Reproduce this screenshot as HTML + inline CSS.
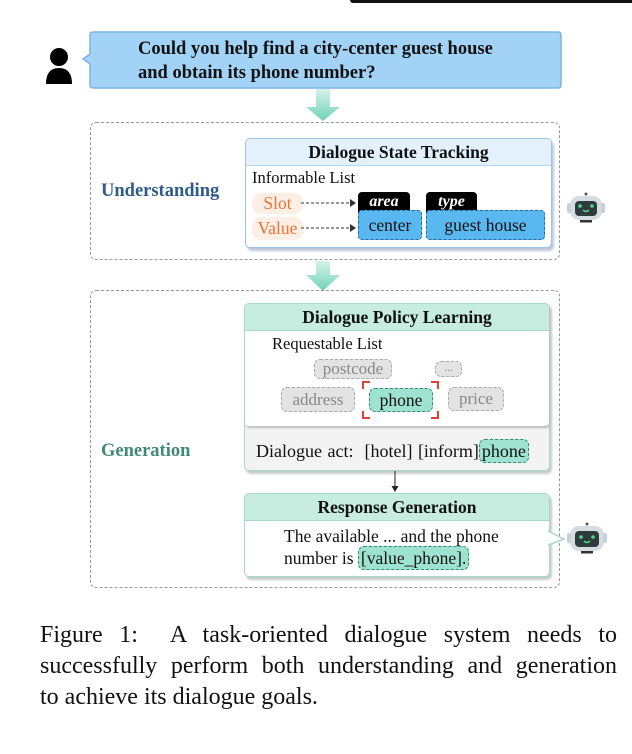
<!DOCTYPE html>
<html><head><meta charset="utf-8"><style>
*{margin:0;padding:0;box-sizing:border-box}
body{width:632px;height:754px;background:#fff;position:relative;overflow:hidden;font-family:"Liberation Serif",serif;color:#111}
.a{position:absolute}
.dash{border:1.2px dashed #999;border-radius:6px}
.t{white-space:nowrap}
.pill{position:absolute;border:1.2px dashed #aaa;border-radius:6px;background:#e3e3e3;color:#888;font-size:17px;text-align:center}
.hl{background:#9ee3d0;border:1.2px dashed #3f8a72;border-radius:6px;padding:1px 2px}
.cl{display:block;text-align:justify;text-align-last:justify;white-space:nowrap;height:31px}
</style></head><body>
<div class="a" style="left:350px;top:0;width:282px;height:3px;background:#111;border-radius:0 0 0 4px"></div>
<!-- person -->
<svg class="a" style="left:44px;top:46px" width="30" height="42"><circle cx="15" cy="11" r="9" fill="#000"/><path d="M2 38 Q2 22 15 22 Q28 22 28 38 Z" fill="#000"/></svg>
<!-- bubble -->
<svg class="a" style="left:80px;top:30px" width="485" height="62"><path d="M10 4 Q10 2 14 2 L478 2 Q481 2 481 5 L481 55 Q481 58 478 58 L14 58 Q10 58 10 55 L10 34 L3 29 L10 24 Z" fill="#a2d3f6" stroke="#7fb4e4" stroke-width="1.5"/></svg>
<div class="a t" style="left:138px;top:37px;font-weight:bold;font-size:18.5px;line-height:24px">Could you help find a city-center guest house<br>and obtain its phone number?</div>
<!-- arrows -->
<svg class="a" style="left:304px;top:89px" width="38" height="34"><defs><linearGradient id="g" x1="0" y1="0" x2="0" y2="1"><stop offset="0" stop-color="#d6f2ea"/><stop offset="1" stop-color="#6fd3b6"/></linearGradient></defs><path d="M12 0 H26 V18 H36 L19 32 L2 18 H12 Z" fill="url(#g)"/></svg>
<svg class="a" style="left:304px;top:261px" width="38" height="32"><path d="M12 0 H26 V14 H36 L19 30 L2 14 H12 Z" fill="url(#g)"/></svg>
<!-- understanding box -->
<div class="a dash" style="left:90px;top:122px;width:470px;height:138px"></div>
<div class="a t" style="left:101px;top:181px;font-weight:bold;font-size:18.5px;color:#2f5b8a">Understanding</div>
<div class="a" style="left:245px;top:138px;width:307px;height:110px;background:#fff;border:1.5px solid #9cc3e8;border-radius:5px;box-shadow:2px 3px 2px #bcc8d6"></div>
<div class="a" style="left:246px;top:139px;width:305px;height:27px;background:#e3f1fc;border-bottom:1.5px solid #b8d6f0;border-radius:4px 4px 0 0;text-align:center;font-weight:bold;font-size:17.5px;line-height:27px">Dialogue State Tracking</div>
<div class="a t" style="left:252px;top:168px;font-size:16.5px">Informable List</div>
<div class="a" style="left:252px;top:193px;width:51px;height:21px;background:#fdeee6;border-radius:9px;color:#e8742f;font-size:17.5px;text-align:center;line-height:21px">Slot</div>
<div class="a" style="left:252px;top:217px;width:51px;height:23px;background:#fdeee6;border-radius:9px;color:#e8742f;font-size:17.5px;text-align:center;line-height:23px">Value</div>
<svg class="a" style="left:300px;top:195px" width="60" height="45"><g stroke="#333" stroke-dasharray="3,2" fill="none"><line x1="1" y1="8" x2="50" y2="8"/><line x1="1" y1="33" x2="50" y2="33"/></g><path d="M50 4 L56 8 L50 12Z M50 29 L56 33 L50 37Z" fill="#333"/></svg>
<div class="a" style="left:358px;top:192px;width:52px;height:22px;background:#000;border-radius:4px 4px 0 0;color:#fff;font-style:italic;font-weight:bold;font-size:16px;text-align:center;line-height:19px">area</div>
<div class="a" style="left:426px;top:192px;width:51px;height:22px;background:#000;border-radius:4px 4px 0 0;color:#fff;font-style:italic;font-weight:bold;font-size:16px;text-align:center;line-height:19px">type</div>
<div class="a" style="left:358px;top:210px;width:64px;height:30px;background:#5ab8f0;border:1.2px dashed #2a6a9a;border-radius:4px;font-size:17.5px;text-align:center;line-height:28px">center</div>
<div class="a" style="left:426px;top:210px;width:119px;height:30px;background:#5ab8f0;border:1.2px dashed #2a6a9a;border-radius:4px;font-size:17.5px;text-align:center;line-height:28px">guest house</div>
<!-- robots -->
<svg class="a" style="left:566px;top:191px" width="40" height="34"><circle cx="20" cy="3" r="1.5" fill="#555"/><rect x="4" y="5" width="32" height="24" rx="9" fill="#d5dde2"/><rect x="1" y="12" width="4" height="10" rx="2" fill="#c8d0d5"/><rect x="35" y="12" width="4" height="10" rx="2" fill="#c8d0d5"/><rect x="9" y="10" width="22" height="15" rx="4" fill="#2f3b3d"/><circle cx="14" cy="15" r="1.8" fill="#4ddc8a"/><circle cx="26" cy="15" r="1.8" fill="#4ddc8a"/><path d="M17 19 Q20 22 23 19" stroke="#4ddc8a" stroke-width="1.5" fill="none"/><rect x="14" y="29" width="12" height="2.5" fill="#333"/></svg>
<svg class="a" style="left:566px;top:521px" width="42" height="36"><circle cx="21" cy="3" r="1.5" fill="#555"/><rect x="4" y="5" width="34" height="25" rx="9" fill="#d5dde2"/><rect x="1" y="12" width="4" height="10" rx="2" fill="#c8d0d5"/><rect x="37" y="12" width="4" height="10" rx="2" fill="#c8d0d5"/><rect x="9" y="10" width="24" height="16" rx="4" fill="#2f3b3d"/><circle cx="15" cy="16" r="1.8" fill="#4ddc8a"/><circle cx="27" cy="16" r="1.8" fill="#4ddc8a"/><path d="M18 20 Q21 23 24 20" stroke="#4ddc8a" stroke-width="1.5" fill="none"/><rect x="15" y="30" width="12" height="2.5" fill="#333"/></svg>
<!-- generation box -->
<div class="a dash" style="left:90px;top:290px;width:470px;height:298px"></div>
<div class="a t" style="left:101px;top:441px;font-weight:bold;font-size:18.5px;color:#3f8a72">Generation</div>
<div class="a" style="left:244px;top:303px;width:306px;height:168px;background:#f3f3f3;border:1.5px solid #a9d8c8;border-radius:5px;box-shadow:2px 3px 2px #c4ccca"></div>
<div class="a" style="left:245px;top:304px;width:304px;height:122px;background:#fff;border-radius:4px;box-shadow:1px 2px 2px #bbb"></div>
<div class="a" style="left:245px;top:304px;width:304px;height:27px;background:#c6eddf;border-bottom:1.5px solid #a9d8c8;border-radius:4px 4px 0 0;text-align:center;font-weight:bold;font-size:17.5px;line-height:27px">Dialogue Policy Learning</div>
<div class="a t" style="left:272px;top:334px;font-size:16.5px">Requestable List</div>
<div class="pill" style="left:314px;top:359px;width:78px;height:20px;line-height:18px">postcode</div>
<div class="pill" style="left:435px;top:361px;width:27px;height:16px;line-height:12px;font-size:11px">...</div>
<div class="pill" style="left:281px;top:387px;width:74px;height:25px;line-height:23px">address</div>
<div class="pill" style="left:448px;top:387px;width:56px;height:24px;line-height:22px">price</div>
<div class="a" style="left:369px;top:388px;width:64px;height:24px;background:#9ee3d0;border:1.2px dashed #3f8a72;border-radius:6px;font-size:17.5px;text-align:center;line-height:22px">phone</div>
<svg class="a" style="left:362px;top:381px" width="78" height="39"><g stroke="#e0403a" stroke-width="2" fill="none"><path d="M1 8 V1 H8"/><path d="M69 1 H76 V8"/><path d="M1 30 V37 H8"/><path d="M69 37 H76 V30"/></g></svg>
<div class="a t" style="left:256px;top:440px;font-size:18px;line-height:22px;word-spacing:1px">Dialogue act:&nbsp; [hotel] [inform]<span class="hl">phone</span></div>
<svg class="a" style="left:390px;top:471px" width="10" height="22"><line x1="5" y1="0" x2="5" y2="16" stroke="#222"/><path d="M1.5 15 L5 21 L8.5 15Z" fill="#222"/></svg>
<div class="a" style="left:244px;top:493px;width:306px;height:84px;background:#fff;border:1.5px solid #a9d8c8;border-radius:5px;box-shadow:2px 3px 2px #c4ccca"></div>
<div class="a" style="left:245px;top:494px;width:304px;height:27px;background:#c6eddf;border-bottom:1.5px solid #a9d8c8;border-radius:4px 4px 0 0;text-align:center;font-weight:bold;font-size:17.5px;line-height:27px">Response Generation</div>
<svg class="a" style="left:548px;top:528px" width="20" height="20"><path d="M0 3 L16 11 L0 17" stroke="#a9d8c8" stroke-width="1.5" fill="#fff"/></svg>
<div class="a t" style="left:284px;top:525px;font-size:17.5px;line-height:22px">The available ... and the phone<br>number is <span class="hl">[value_phone].</span></div>
<!-- caption -->
<div class="a" style="left:40px;top:620px;width:577px;font-size:24px;line-height:31px">
<span class="cl">Figure 1:&nbsp; A task-oriented dialogue system needs to</span>
<span class="cl">successfully perform both understanding and generation</span>
<span style="display:block;white-space:nowrap">to achieve its dialogue goals.</span>
</div>
</body></html>
